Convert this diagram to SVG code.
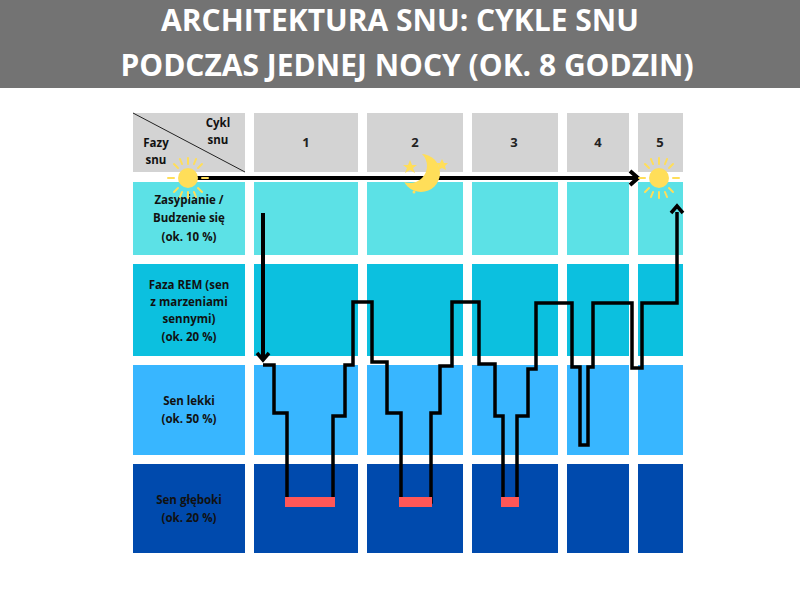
<svg xmlns="http://www.w3.org/2000/svg" width="800" height="600" viewBox="0 0 800 600">
<style>
.t{font-family:"Open Sans","Liberation Sans",sans-serif;font-weight:bold;text-anchor:middle}
.h{fill:#d3d3d3}.r1{fill:#5ce1e6}.r2{fill:#0cc0df}.r3{fill:#38b6ff}.r4{fill:#004aad}
.lbl{font-size:11.5px;fill:#111}
.num{font-size:13px;fill:#222}
.ray{stroke:#ffde59;stroke-width:2;stroke-linecap:round}
.bar{fill:#ff5757}
</style>
<defs>
<g id="sun"><circle r="10" fill="#ffde59"/>
<g class="ray"><line x1="14" y1="0" x2="20" y2="0"/><line x1="-14" y1="0" x2="-20" y2="0"/><line x1="0" y1="14" x2="0" y2="20"/><line x1="0" y1="-14" x2="0" y2="-20"/><line x1="10" y1="10" x2="14" y2="14"/><line x1="-10" y1="10" x2="-14" y2="14"/><line x1="10" y1="-10" x2="14" y2="-14"/><line x1="-10" y1="-10" x2="-14" y2="-14"/><line x1="6" y1="14" x2="8" y2="19"/><line x1="-6" y1="14" x2="-8" y2="19"/><line x1="6" y1="-14" x2="8" y2="-19"/><line x1="-6" y1="-14" x2="-8" y2="-19"/></g></g>
<mask id="moonmask"><rect x="380" y="140" width="80" height="70" fill="#fff"/><circle cx="410" cy="166" r="17" fill="#000"/></mask>
</defs>
<rect width="800" height="600" fill="#fff"/>
<g id="title"><rect x="0" y="0" width="800" height="88" fill="#737373"/>
<text class="t" x="400" y="31" font-size="30" fill="#fff">ARCHITEKTURA SNU: CYKLE SNU</text>
<text class="t" x="407" y="76" font-size="30" fill="#fff">PODCZAS JEDNEJ NOCY (OK. 8 GODZIN)</text></g>
<g id="header">
<rect class="h" x="133" y="113" width="112" height="59"/>
<line x1="133" y1="113" x2="245" y2="172" stroke="#222" stroke-width="1"/>
<text class="t lbl" x="218" y="127">Cykl</text><text class="t lbl" x="218" y="144">snu</text>
<text class="t lbl" x="156" y="147">Fazy</text><text class="t lbl" x="156" y="164">snu</text>
<rect class="h" x="254" y="113" width="104" height="59"/><text class="t num" x="306" y="147">1</text>
<rect class="h" x="367" y="113" width="96" height="59"/><text class="t num" x="415" y="147">2</text>
<rect class="h" x="472" y="113" width="86" height="59"/><text class="t num" x="514" y="147">3</text>
<rect class="h" x="567" y="113" width="62" height="59"/><text class="t num" x="598" y="147">4</text>
<rect class="h" x="638" y="113" width="45" height="59"/><text class="t num" x="660" y="147">5</text>
</g>
<g id="row1">
<rect class="r1" x="133" y="182" width="112" height="73"/>
<rect class="r1" x="254" y="182" width="104" height="73"/><rect class="r1" x="367" y="182" width="96" height="73"/><rect class="r1" x="472" y="182" width="86" height="73"/><rect class="r1" x="567" y="182" width="62" height="73"/><rect class="r1" x="638" y="182" width="45" height="73"/>
<text class="t lbl" x="189" y="204">Zasypianie /</text><text class="t lbl" x="189" y="222">Budzenie się</text><text class="t lbl" x="189" y="241">(ok. 10 %)</text>
</g>
<g id="row2">
<rect class="r2" x="133" y="264" width="112" height="92"/>
<rect class="r2" x="254" y="264" width="104" height="92"/><rect class="r2" x="367" y="264" width="96" height="92"/><rect class="r2" x="472" y="264" width="86" height="92"/><rect class="r2" x="567" y="264" width="62" height="92"/><rect class="r2" x="638" y="264" width="45" height="92"/>
<text class="t lbl" x="189" y="289">Faza REM (sen</text><text class="t lbl" x="189" y="306">z marzeniami</text><text class="t lbl" x="189" y="323">sennymi)</text><text class="t lbl" x="189" y="341">(ok. 20 %)</text>
</g>
<g id="row3">
<rect class="r3" x="133" y="365" width="112" height="90"/>
<rect class="r3" x="254" y="365" width="104" height="90"/><rect class="r3" x="367" y="365" width="96" height="90"/><rect class="r3" x="472" y="365" width="86" height="90"/><rect class="r3" x="567" y="365" width="62" height="90"/><rect class="r3" x="638" y="365" width="45" height="90"/>
<text class="t lbl" x="189" y="405">Sen lekki</text><text class="t lbl" x="189" y="423">(ok. 50 %)</text>
</g>
<g id="row4">
<rect class="r4" x="133" y="464" width="112" height="89"/>
<rect class="r4" x="254" y="464" width="104" height="89"/><rect class="r4" x="367" y="464" width="96" height="89"/><rect class="r4" x="472" y="464" width="86" height="89"/><rect class="r4" x="567" y="464" width="62" height="89"/><rect class="r4" x="638" y="464" width="45" height="89"/>
<text class="t lbl" x="189" y="504">Sen głęboki</text><text class="t lbl" x="189" y="522">(ok. 20 %)</text>
</g>
<g id="connectors" fill="none" stroke="#000" stroke-width="4" stroke-linejoin="miter">
<line x1="188" y1="178" x2="638" y2="178"/>
<polyline points="630,171 638,178 630,185" stroke-width="4"/>
<line x1="263" y1="213" x2="263" y2="360"/>
<polyline points="257,353 263,360 269,353" stroke-width="3.5"/>
<polyline points="263,365 274,365 274,413 287,413 287,502 333,502 333,416 345,416 345,365 353,365 353,302 372,302 372,362 387,362 387,413 401,413 401,502 431,502 431,413 440,413 440,366 452,366 452,302 479,302 479,364 495,364 495,416 503,416 503,502 517,502 517,416 528,416 528,369 536,369 536,303 572,303 572,367 580,367 580,445 588,445 588,367 593,367 593,303 632,303 632,368 642,368 642,303 677,303 677,212" stroke-width="3.5"/>
<polyline points="671,213 677,206 683,213" stroke-width="3.5"/>
</g>
<g id="bars">
<rect class="bar" x="285" y="497" width="50" height="10"/>
<rect class="bar" x="399" y="497" width="33" height="10"/>
<rect class="bar" x="501" y="497" width="18" height="10"/>
</g>
<g id="icons">
<use href="#sun" x="188" y="178"/>
<use href="#sun" x="659" y="178"/>
<g id="moon" fill="#ffde59">
<circle cx="421" cy="173" r="19" mask="url(#moonmask)"/>
<polygon points="388,157 390,162 395,162 391,165 393,170 388,167 383,170 385,165 381,162 386,162" transform="translate(22,3)"/>
<polygon points="442,159 444,163 448,163 445,166 446,170 442,168 438,170 439,166 436,163 440,163"/>
<circle cx="414" cy="192" r="1.5"/>
</g>
</g>
</svg>
